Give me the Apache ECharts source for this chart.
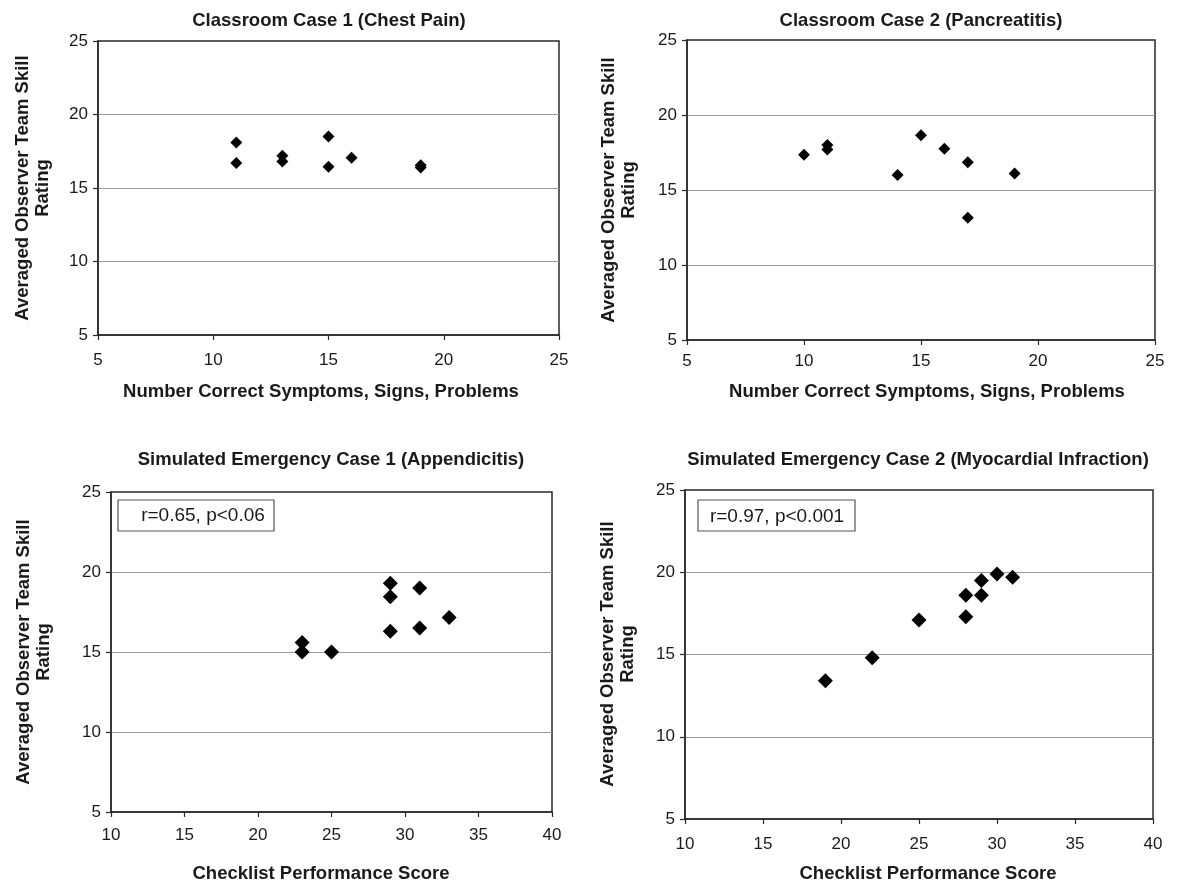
<!DOCTYPE html>
<html>
<head>
<meta charset="utf-8">
<script src="https://cdn.jsdelivr.net/npm/echarts@6/dist/echarts.min.js"></script>
<style>
html,body{margin:0;padding:0;background:#fff;}
#chart{width:1180px;height:884px;}
</style>
</head>
<body>
<div id="chart"></div>
<script>
// ---- Data ----
const panelTitles = [
  'Classroom Case 1 (Chest Pain)',
  'Classroom Case 2 (Pancreatitis)',
  'Simulated Emergency Case 1 (Appendicitis)',
  'Simulated Emergency Case 2 (Myocardial Infraction)'
];
const xAxisTitles = [
  'Number Correct Symptoms, Signs, Problems',
  'Number Correct Symptoms, Signs, Problems',
  'Checklist Performance Score',
  'Checklist Performance Score'
];
const yAxisTitle = 'Averaged Observer Team Skill\nRating';
const annotations = ['', '', 'r=0.65, p<0.06', 'r=0.97, p<0.001'];

const case1X = [11, 11, 13, 13, 15, 15, 16, 19, 19];
const case1Y = [18.1, 16.7, 17.2, 16.8, 18.5, 16.45, 17.05, 16.4, 16.55];

const case2X = [10, 11, 11, 14, 15, 16, 17, 17, 19];
const case2Y = [17.35, 18.0, 17.7, 16.0, 18.65, 17.75, 16.85, 13.15, 16.1];

const sim1X = [23, 23, 25, 29, 29, 29, 31, 31, 33];
const sim1Y = [15.6, 15.0, 15.0, 19.3, 18.45, 16.3, 19.0, 16.5, 17.15];

const sim2X = [19, 22, 25, 28, 28, 29, 29, 30, 31];
const sim2Y = [13.4, 14.8, 17.1, 17.3, 18.6, 18.6, 19.5, 19.9, 19.7];

const xRanges = [[5, 25], [5, 25], [10, 40], [10, 40]];
const yRange = [5, 25];
const tickStep = 5;

// ---- Layout ----
const grids = [
  {left: 98, top: 41, width: 461, height: 294},
  {left: 687, top: 40, width: 468, height: 300},
  {left: 111, top: 492, width: 441, height: 320},
  {left: 685, top: 490, width: 468, height: 329}
];
const titlePos = [[329, 21], [921, 21], [331, 460], [918, 460]];
const xTitlePos = [[321, 392], [927, 392], [321, 874], [928, 874]];
const yTitlePos = [[33, 188], [619, 190], [34, 652], [618, 654]];
const xLabelMargin = [17, 13, 15, 17];
const symbolSizes = [12, 12, 15, 15];
const boxes = [null, null, {x: 118, y: 500, w: 156, h: 31, tx: 203, ty: 516}, {x: 698, y: 500, w: 157, h: 31, tx: 777, ty: 517}];

const xs = [case1X, case2X, sim1X, sim2X];
const ys = [case1Y, case2Y, sim1Y, sim2Y];

const FONT = '"Liberation Sans", Arial, Helvetica, sans-serif';
const textColor = '#1a1a1a';

const option = {
  backgroundColor: '#fff',
  animation: false,
  grid: grids.map(g => Object.assign({show: true, borderColor: '#2a2a2a', borderWidth: 1.5, backgroundColor: 'transparent'}, g)),
  xAxis: grids.map((g, i) => ({
    type: 'value', gridIndex: i,
    min: xRanges[i][0], max: xRanges[i][1], interval: tickStep,
    axisLine: {show: true, onZero: false, lineStyle: {color: '#2a2a2a', width: 1.5}},
    axisTick: {show: true, inside: false, length: 5, lineStyle: {color: '#2a2a2a', width: 1.2}},
    axisLabel: {show: true, margin: xLabelMargin[i], color: textColor, fontSize: 17, fontFamily: FONT, showMinLabel: true, showMaxLabel: true},
    splitLine: {show: false}
  })),
  yAxis: grids.map((g, i) => ({
    type: 'value', gridIndex: i,
    min: yRange[0], max: yRange[1], interval: tickStep,
    axisLine: {show: true, onZero: false, lineStyle: {color: '#2a2a2a', width: 1.5}},
    axisTick: {show: true, inside: false, length: 5, lineStyle: {color: '#2a2a2a', width: 1.2}},
    axisLabel: {show: true, margin: 10, color: textColor, fontSize: 17, fontFamily: FONT, showMinLabel: true, showMaxLabel: true},
    splitLine: {show: true, showMinLine: false, showMaxLine: false, lineStyle: {color: '#9a9a9a', width: 1.2}}
  })),
  series: xs.map((xv, i) => ({
    type: 'scatter', xAxisIndex: i, yAxisIndex: i,
    symbol: 'diamond', symbolSize: symbolSizes[i],
    itemStyle: {color: '#000', opacity: 1},
    emphasis: {disabled: true},
    data: xv.map((x, k) => [x, ys[i][k]]),
    z: 5
  })),
  graphic: []
};

for (let i = 0; i < 4; i++) {
  option.graphic.push({
    type: 'text', x: titlePos[i][0], y: titlePos[i][1], z: 10,
    style: {text: panelTitles[i], fill: textColor, font: 'bold 18.5px ' + FONT, textAlign: 'center', textVerticalAlign: 'middle'}
  });
  option.graphic.push({
    type: 'text', x: xTitlePos[i][0], y: xTitlePos[i][1], z: 10,
    style: {text: xAxisTitles[i], fill: textColor, font: 'bold 18.5px ' + FONT, textAlign: 'center', textVerticalAlign: 'middle'}
  });
  option.graphic.push({
    type: 'text', x: yTitlePos[i][0], y: yTitlePos[i][1], rotation: Math.PI / 2, z: 10,
    style: {text: yAxisTitle, fill: textColor, font: 'bold 18.5px ' + FONT, textAlign: 'center', textVerticalAlign: 'middle', lineHeight: 20}
  });
  const b = boxes[i];
  if (b) {
    option.graphic.push({
      type: 'rect', z: 10,
      shape: {x: b.x, y: b.y, width: b.w, height: b.h},
      style: {fill: '#fff', stroke: '#555', lineWidth: 1.2}
    });
    option.graphic.push({
      type: 'text', x: b.tx, y: b.ty, z: 11,
      style: {text: annotations[i], fill: textColor, font: '19px ' + FONT, textAlign: 'center', textVerticalAlign: 'middle'}
    });
  }
}

const chart = echarts.init(document.getElementById('chart'), null, {renderer: 'canvas'});
chart.setOption(option);
</script>
</body>
</html>
